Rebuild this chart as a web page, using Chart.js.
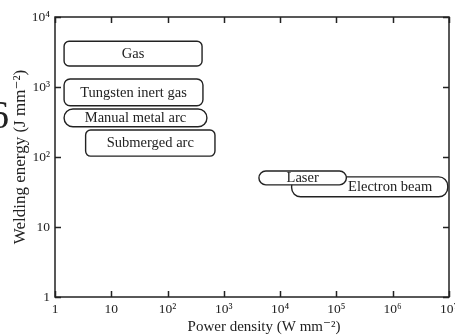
<!DOCTYPE html>
<html>
<head>
<meta charset="utf-8">
<script src="https://cdn.jsdelivr.net/npm/chart.js@4/dist/chart.umd.min.js"></script>
<style>
  html, body { margin: 0; padding: 0; background: #fff; }
  #wrap { width: 455px; height: 336px; position: relative; }
</style>
</head>
<body>
<div id="wrap"><canvas id="c" width="455" height="336"></canvas></div>
<script>
// Welding processes: ranges of power density (W mm^-2) and welding energy (J mm^-2)
const processes   = ['Gas', 'Tungsten inert gas', 'Manual metal arc', 'Submerged arc', 'Electron beam', 'Laser'];
const powerLow    = [1.45, 1.45, 1.45, 3.5, 1.6e4, 4.2e3];
const powerHigh   = [410, 425, 500, 695, 9.5e6, 1.5e5];
const energyLow   = [2000, 540, 270, 103, 27, 40];
const energyHigh  = [4500, 1300, 485, 243, 52, 63];
// where each name sits along the power axis (null = middle of its range)
const labelPower  = [null, null, null, null, 9e5, null];

const powerTicks       = [1, 10, 1e2, 1e3, 1e4, 1e5, 1e6, 1e7];
const powerTickLabels  = ['1', '10', '10²', '10³', '10⁴', '10⁵', '10⁶', '10⁷'];
const energyTicks      = [1, 10, 1e2, 1e3, 1e4];
const energyTickLabels = ['1', '10', '10²', '10³', '10⁴'];
const powerTitle       = 'Power density (W mm⁻²)';
const energyTitle      = 'Welding energy (J mm⁻²)';

const SERIF = "'Liberation Serif', 'DejaVu Serif', serif";
const INK = '#222';
const cornerRadius = { 'Gas': 5, 'Tungsten inert gas': 6, 'Manual metal arc': 9,
                       'Submerged arc': 5, 'Electron beam': 9, 'Laser': 7 };

const datasets = processes.map((name, i) => ({
  label: name,
  data: [{ x: powerLow[i], y: energyLow[i] }, { x: powerHigh[i], y: energyHigh[i] }],
  pointRadius: 0,
  showLine: false
}));

function rrect(ctx, x, y, w, h, r) {
  r = Math.min(r, h / 2, w / 2);
  ctx.beginPath();
  ctx.moveTo(x + r, y);
  ctx.lineTo(x + w - r, y);
  ctx.arcTo(x + w, y, x + w, y + r, r);
  ctx.lineTo(x + w, y + h - r);
  ctx.arcTo(x + w, y + h, x + w - r, y + h, r);
  ctx.lineTo(x + r, y + h);
  ctx.arcTo(x, y + h, x, y + h - r, r);
  ctx.lineTo(x, y + r);
  ctx.arcTo(x, y, x + r, y, r);
  ctx.closePath();
}

// Rounded range boxes with their names
const rangeBoxes = {
  id: 'rangeBoxes',
  afterDatasetsDraw(chart) {
    const { ctx, scales: { x, y } } = chart;
    ctx.save();
    chart.data.datasets.forEach((ds, i) => {
      const [lo, hi] = ds.data;
      const x0 = x.getPixelForValue(lo.x), x1 = x.getPixelForValue(hi.x);
      const y0 = y.getPixelForValue(hi.y), y1 = y.getPixelForValue(lo.y);
      rrect(ctx, x0, y0, x1 - x0, y1 - y0, cornerRadius[ds.label]);
      ctx.fillStyle = '#fff';
      ctx.fill();
      ctx.lineWidth = 1.4;
      ctx.strokeStyle = INK;
      ctx.stroke();
      const lx = labelPower[i] != null ? x.getPixelForValue(labelPower[i]) : (x0 + x1) / 2;
      ctx.fillStyle = INK;
      ctx.font = `14.5px ${SERIF}`;
      ctx.textAlign = 'center';
      ctx.textBaseline = 'middle';
      ctx.fillText(ds.label, lx, (y0 + y1) / 2 + 0.5);
    });
    ctx.restore();
  }
};

// Closed frame with inward ticks on all four sides, plus the power axis title
const frame = {
  id: 'frame',
  afterDraw(chart) {
    const { ctx, chartArea: a, scales: { x, y } } = chart;
    ctx.save();
    ctx.strokeStyle = INK;
    ctx.lineWidth = 1.5;
    ctx.strokeRect(a.left, a.top, a.right - a.left, a.bottom - a.top);
    ctx.beginPath();
    const L = 6;
    x.ticks.forEach(t => {
      const px = Math.round(x.getPixelForValue(t.value)) + 0.5;
      ctx.moveTo(px, a.bottom); ctx.lineTo(px, a.bottom - L);
      ctx.moveTo(px, a.top);    ctx.lineTo(px, a.top + L);
    });
    y.ticks.forEach(t => {
      const py = Math.round(y.getPixelForValue(t.value)) + 0.5;
      ctx.moveTo(a.left, py);  ctx.lineTo(a.left + L, py);
      ctx.moveTo(a.right, py); ctx.lineTo(a.right - L, py);
    });
    ctx.stroke();

    ctx.fillStyle = INK;
    ctx.font = `15px ${SERIF}`;
    ctx.textAlign = 'center';
    ctx.textBaseline = 'middle';
    ctx.fillText(powerTitle, (a.left + a.right) / 2 + 12, x.bottom - 9);

    // chapter number at the page edge
    ctx.font = `40px ${SERIF}`;
    ctx.textAlign = 'right';
    ctx.textBaseline = 'alphabetic';
    ctx.fillText('6', 9, 128);
    ctx.restore();
  }
};

new Chart(document.getElementById('c'), {
  type: 'scatter',
  data: { datasets },
  options: {
    responsive: false,
    animation: false,
    events: [],
    layout: { padding: { top: 17, right: 6, left: 0, bottom: 0 } },
    plugins: { legend: { display: false }, tooltip: { enabled: false } },
    scales: {
      x: {
        type: 'logarithmic',
        position: 'bottom',
        min: 1, max: 1e7,
        afterBuildTicks: s => { s.ticks = powerTicks.map(v => ({ value: v })); },
        afterFit: s => { s.height = 39; s.paddingLeft = 0; s.paddingRight = 0; },
        grid: { display: false, drawTicks: false },
        border: { display: false },
        ticks: {
          autoSkip: false, maxRotation: 0, padding: 4,
          color: INK, font: { family: SERIF, size: 13.5 },
          callback: (v, i) => powerTickLabels[i]
        },
        title: { display: false }
      },
      y: {
        type: 'logarithmic',
        position: 'left',
        min: 1, max: 1e4,
        afterBuildTicks: s => { s.ticks = energyTicks.map(v => ({ value: v })); },
        afterFit: s => { s.width = 55; s.paddingTop = 0; s.paddingBottom = 0; },
        grid: { display: false, drawTicks: false },
        border: { display: false },
        ticks: {
          autoSkip: false, padding: 5,
          color: INK, font: { family: SERIF, size: 13.5 },
          callback: (v, i) => energyTickLabels[i]
        },
        title: {
          display: true, text: energyTitle,
          color: INK, font: { family: SERIF, size: 17 },
          padding: { top: 10, bottom: 0 }
        }
      }
    }
  },
  plugins: [rangeBoxes, frame]
});
</script>
</body>
</html>
